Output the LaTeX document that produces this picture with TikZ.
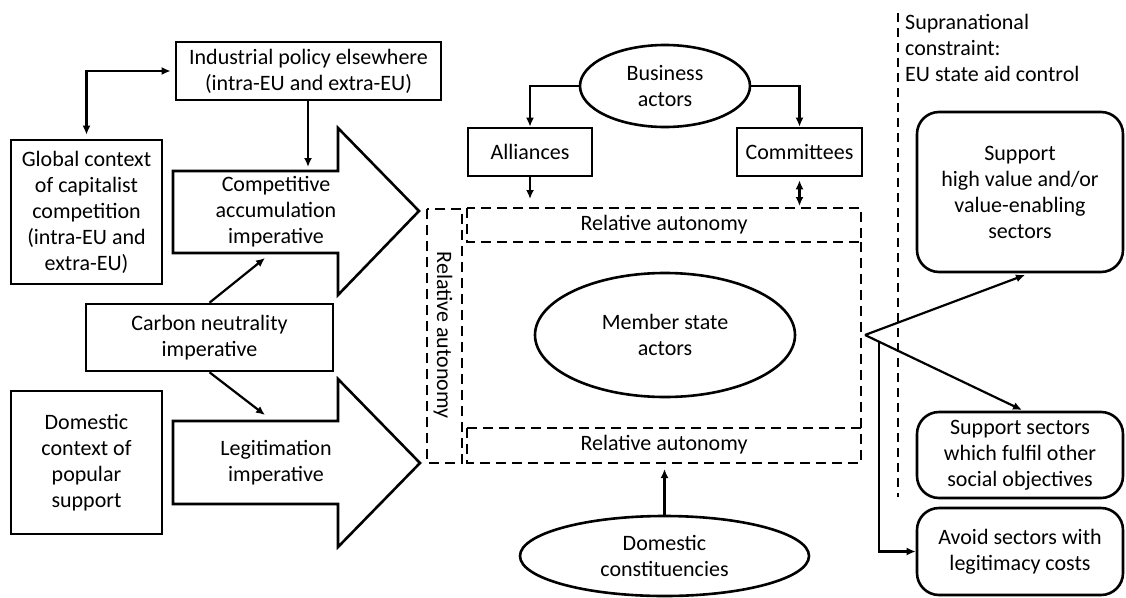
\documentclass[tikz,border=0pt]{standalone}
\usepackage{fontspec}
\setmainfont{Carlito}
\usetikzlibrary{shapes.geometric,arrows.meta}
\begin{document}
\begin{tikzpicture}[x=1pt,y=-1pt,
  every node/.style={font=\fontsize{22}{26}\selectfont, align=center, inner sep=0pt},
  box/.style={draw, line width=2.6pt, rectangle},
  rbox/.style={draw, line width=2.6pt, rectangle, rounded corners=22pt},
  oval/.style={draw, line width=2.6pt, ellipse},
  dbox/.style={draw, line width=2.6pt, dash pattern=on 10pt off 6pt},
  conn/.style={line width=2.2pt, -{Latex[length=9pt,width=8pt]}},
  dconn/.style={line width=2.2pt, {Latex[length=9pt,width=8pt]}-{Latex[length=9pt,width=8pt]}},
  bigarrow/.style={draw, line width=2.6pt, line join=miter}
]
\useasboundingbox (0,0) rectangle (1126,597);

% left column
\node[box, minimum width=265pt, minimum height=58pt] (ind) at (308.5,71) {Industrial policy elsewhere\\(intra-EU and extra-EU)};
\node[box, minimum width=151pt, minimum height=144pt] (glob) at (86.5,212) {Global context\\of capitalist\\competition\\(intra-EU and\\extra-EU)};
\node[box, minimum width=247pt, minimum height=67pt] (carb) at (209.5,337.5) {Carbon neutrality\\imperative};
\node[box, minimum width=151pt, minimum height=143pt] (dom) at (86.5,462.5) {Domestic\\context of\\popular\\support};

% big arrows
\draw[bigarrow] (173,171) -- (338,171) -- (338,128) -- (419,211) -- (338,295) -- (338,253) -- (173,253) -- cycle;
\node (comp) at (276,212) {Competitive\\accumulation\\imperative};
\draw[bigarrow] (173,421) -- (338,421) -- (338,379) -- (420,463) -- (338,547) -- (338,504) -- (173,504) -- cycle;
\node (legit) at (276,463) {Legitimation\\imperative};

\coordinate (compTop) at (308,167);
\coordinate (compBot) at (265,258);
\coordinate (legTop) at (265,415);

\draw[dconn, shorten <=4pt, shorten >=4pt] (glob.north) |- (ind.west);
\draw[conn] (ind.south -| compTop) -- (compTop);
\draw[conn] (carb.north) -- (compBot);
\draw[conn] (carb.south) -- (legTop);

% relative autonomy boxes
\draw[dbox] (427,209) rectangle (462,463);
\node[rotate=-90] (ravert) at (443,335) {Relative autonomy};
\draw[dbox] (467,208) rectangle (861,242);
\node (ratop) at (664,225) {Relative autonomy};
\draw[dbox] (467,428) rectangle (861,463);
\node (rabot) at (664,445) {Relative autonomy};
\draw[dbox] (861,242) -- (861,428);

\node[oval, minimum width=260pt, minimum height=124pt] (mem) at (665,335) {Member state\\actors};

% business
\node[oval, minimum width=170pt, minimum height=82pt] (bus) at (665,86) {Business\\actors};
\node[box, minimum width=124pt, minimum height=48pt] (all) at (530,152) {Alliances};
\node[box, minimum width=125pt, minimum height=48pt] (com) at (799.5,152) {Committees};
\draw[conn] (bus.west) -| (all.north);
\draw[conn] (bus.east) -| (com.north);
\coordinate (allEnd) at (530,199);
\coordinate (comEnd) at (799.5,206);
\draw[conn] (all.south) -- (allEnd);
\draw[dconn, shorten <=3pt] (com.south) -- (comEnd);

% domestic constituencies
\node[oval, minimum width=289pt, minimum height=80pt] (domc) at (664.5,556) {Domestic\\constituencies};
\coordinate (domcEnd) at (664.5,469);
\draw[conn] (domc.north) -- (domcEnd);

% supranational
\draw[line width=2.6pt, dash pattern=on 9pt off 6pt] (898,13) coordinate (supA) -- (898,497) coordinate (supB);
\node[align=left, anchor=west] (supra) at (905,48) {Supranational\\constraint:\\EU state aid control};

\node[rbox, minimum width=206pt, minimum height=160pt] (sh) at (1020,192) {Support\\high value and/or\\value-enabling\\sectors};
\node[rbox, minimum width=206pt, minimum height=86pt] (ss) at (1020,455) {Support sectors\\which fulfil other\\social objectives};
\node[rbox, minimum width=206pt, minimum height=87pt] (av) at (1020,551.5) {Avoid sectors with\\legitimacy costs};

\coordinate (fan) at (865,335);
\coordinate (shEnd) at (1025,275);
\coordinate (ssEnd) at (1022,410);
\coordinate (avStart) at (879,342);
\draw[conn] (fan) -- (shEnd);
\draw[conn] (fan) -- (ssEnd);
\draw[conn] (avStart) |- (av.west);
\end{tikzpicture}
\end{document}
